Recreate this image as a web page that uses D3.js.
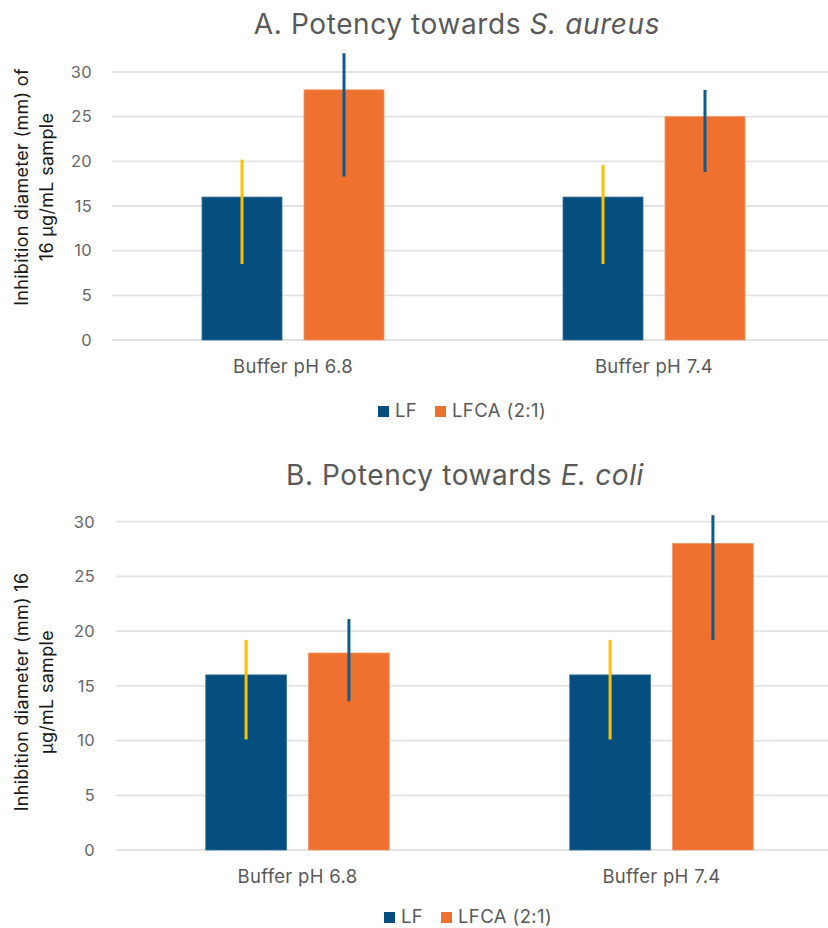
<!DOCTYPE html>
<html>
<head>
<meta charset="utf-8">
<script src="https://cdn.jsdelivr.net/npm/d3@7"></script>
<style>
  html, body { margin: 0; padding: 0; background: #fff; }
  svg { display: block; }
  text { font-family: Inter, "Open Sans", "Liberation Sans", sans-serif; }
</style>
</head>
<body>
<svg id="chart" width="828" height="928"></svg>
<script>
// Shared categories, series and ticks
const categories = ["Buffer pH 6.8", "Buffer pH 7.4"];
const seriesNames = ["LF", "LFCA (2:1)"];
const yTicks = [0, 5, 10, 15, 20, 25, 30];

// Panel A: S. aureus — inhibition diameter (mm) with error ranges
const aLF = [16, 16];
const aLFCA = [28, 25];
const aLFLow = [8.5, 8.5];
const aLFHigh = [20.2, 19.6];
const aLFCALow = [18.3, 18.8];
const aLFCAHigh = [32.1, 28.0];

// Panel B: E. coli — inhibition diameter (mm) with error ranges
const bLF = [16, 16];
const bLFCA = [18, 28];
const bLFLow = [10.1, 10.1];
const bLFHigh = [19.2, 19.2];
const bLFCALow = [13.6, 19.2];
const bLFCAHigh = [21.1, 30.6];

const barColors = ["#044F7F", "#EE7130"];
const barEdge = ["#2F6E98", "#F39160"];
const errColors = ["#FFC000", "#0B5B8E"];

const svg = d3.select("#chart");

function drawPanel(p) {
  const g = svg.append("g");
  const x0 = d3.scaleBand().domain(categories).range([p.left, p.right])
    .paddingInner(0.496).paddingOuter(0.248);
  const x1 = d3.scaleBand().domain(seriesNames).range([0, x0.bandwidth()])
    .paddingInner(0.216).paddingOuter(0);
  const y = d3.scaleLinear().domain([0, 30]).range([p.bottom, p.top]);

  // horizontal gridlines
  g.append("g").selectAll("line").data(yTicks).join("line")
    .attr("x1", p.gridLeft).attr("x2", 828)
    .attr("y1", d => y(d)).attr("y2", d => y(d))
    .attr("stroke", "#E3E3E3").attr("stroke-width", 1.8);

  // tick labels
  g.append("g").selectAll("text").data(yTicks).join("text")
    .attr("x", p.tickX).attr("y", d => y(d) + 5.8)
    .attr("text-anchor", "end").attr("font-size", 16.5).attr("fill", "#666")
    .attr("letter-spacing", 0.3)
    .text(d => d);

  const rows = categories.map((c, i) => ({
    cat: c,
    vals: [
      { s: 0, v: p.lf[i], lo: p.lfLow[i], hi: p.lfHigh[i] },
      { s: 1, v: p.lfca[i], lo: p.lfcaLow[i], hi: p.lfcaHigh[i] }
    ]
  }));

  const grp = g.append("g").selectAll("g").data(rows).join("g")
    .attr("transform", d => `translate(${x0(d.cat)},0)`);

  grp.selectAll("rect").data(d => d.vals).join("rect")
    .attr("x", d => x1(seriesNames[d.s]))
    .attr("width", x1.bandwidth())
    .attr("y", d => y(d.v))
    .attr("height", d => y(0) - y(d.v))
    .attr("fill", d => barColors[d.s])
    .attr("stroke", d => barEdge[d.s]).attr("stroke-width", 0.8);

  grp.selectAll("line.err").data(d => d.vals).join("line")
    .attr("class", "err")
    .attr("x1", d => x1(seriesNames[d.s]) + x1.bandwidth() / 2)
    .attr("x2", d => x1(seriesNames[d.s]) + x1.bandwidth() / 2)
    .attr("y1", d => y(d.lo)).attr("y2", d => y(d.hi))
    .attr("stroke", d => errColors[d.s]).attr("stroke-width", 3);

  // category labels
  g.append("g").selectAll("text").data(categories).join("text")
    .attr("x", d => x0(d) + x0.bandwidth() / 2)
    .attr("y", p.bottom + 33)
    .attr("text-anchor", "middle").attr("font-size", 18.5).attr("fill", "#595959")
    .attr("letter-spacing", 0.3)
    .text(d => d);

  // title
  const t = g.append("text").attr("x", p.titleX).attr("y", p.titleY)
    .attr("text-anchor", "middle").attr("font-size", 28).attr("fill", "#595959")
    .attr("letter-spacing", 0.6);
  t.append("tspan").text(p.titleMain);
  t.append("tspan").attr("font-style", "italic").text(p.titleItalic);

  // y-axis title (two lines)
  p.yLabel.forEach((line, i) => {
    g.append("text")
      .attr("transform", `translate(${p.yLabelX[i]},${p.yLabelY}) rotate(-90)`)
      .attr("text-anchor", "middle").attr("font-size", 18).attr("fill", "#1a1a1a")
      .attr("letter-spacing", 0.3)
      .text(line);
  });

  // legend
  const lg = g.append("g");
  seriesNames.forEach((s, i) => {
    lg.append("rect").attr("x", p.legendX[i]).attr("y", p.legendY - 11)
      .attr("width", 11).attr("height", 11).attr("fill", barColors[i]);
    lg.append("text").attr("x", p.legendX[i] + 17).attr("y", p.legendY)
      .attr("font-size", 18.5).attr("fill", "#595959").attr("letter-spacing", 0.4)
      .text(s);
  });
}

drawPanel({
  left: 112.5, right: 834.5, gridLeft: 112, top: 72, bottom: 340, tickX: 92,
  lf: aLF, lfca: aLFCA, lfLow: aLFLow, lfHigh: aLFHigh, lfcaLow: aLFCALow, lfcaHigh: aLFCAHigh,
  titleX: 457, titleY: 34, titleMain: "A. Potency towards ", titleItalic: "S. aureus",
  yLabel: ["Inhibition diameter (mm) of", "16 \u03bcg/mL sample"], yLabelX: [28, 53], yLabelY: 187,
  legendX: [378, 435], legendY: 417
});

drawPanel({
  left: 115.5, right: 843.5, gridLeft: 116, top: 521.7, bottom: 850, tickX: 95,
  lf: bLF, lfca: bLFCA, lfLow: bLFLow, lfHigh: bLFHigh, lfcaLow: bLFCALow, lfcaHigh: bLFCAHigh,
  titleX: 465, titleY: 485, titleMain: "B. Potency towards ", titleItalic: "E. coli",
  yLabel: ["Inhibition diameter (mm) 16", "\u03bcg/mL sample"], yLabelX: [28, 53], yLabelY: 692,
  legendX: [384, 441], legendY: 923
});
</script>
</body>
</html>
